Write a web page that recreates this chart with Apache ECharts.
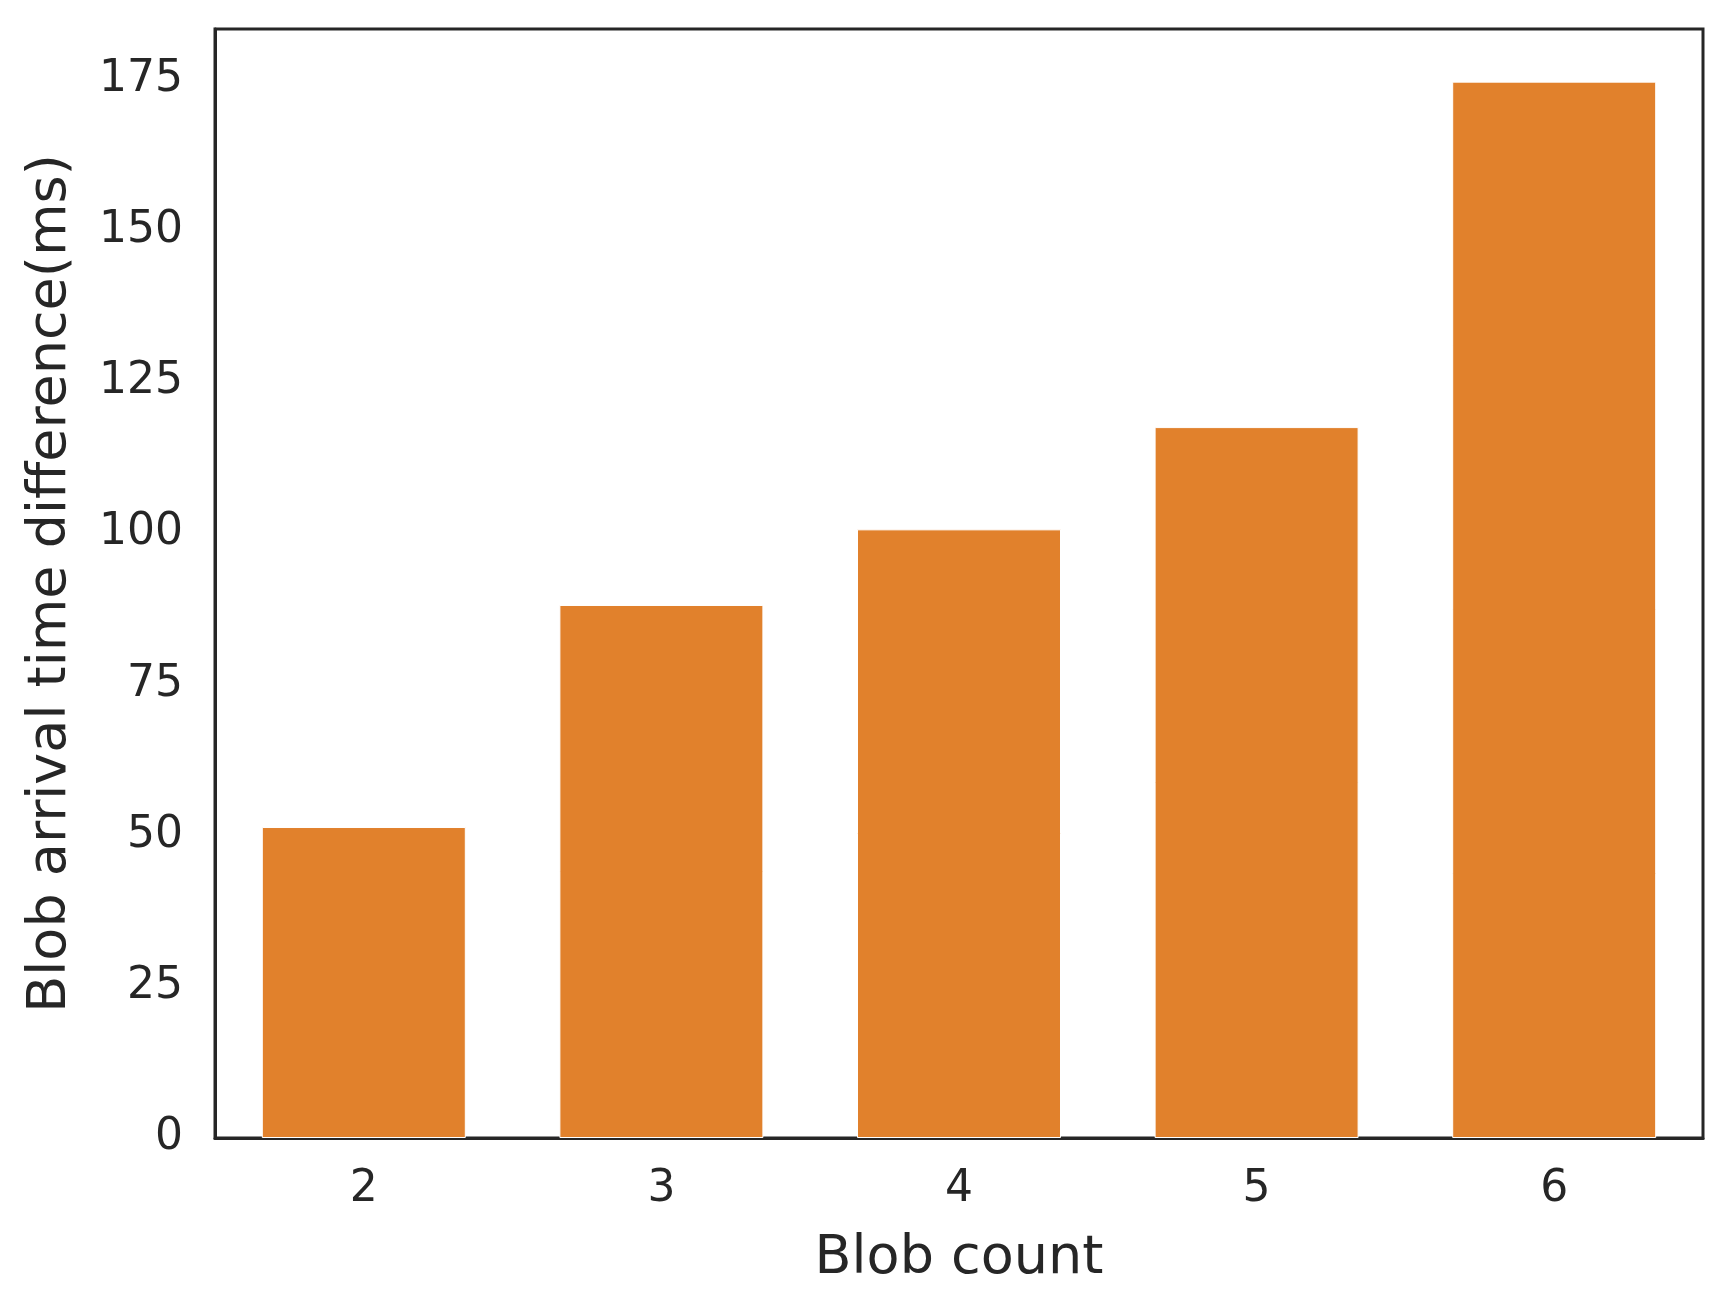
<!DOCTYPE html>
<html>
<head>
<meta charset="utf-8">
<script src="https://cdn.jsdelivr.net/npm/echarts@6/dist/echarts.min.js"></script>
<style>
html,body{margin:0;padding:0;background:#fff;}
#chart{width:1733px;height:1311px;}
</style>
</head>
<body>
<div id="chart"></div>
<script>
const categories = ['2', '3', '4', '5', '6'];
const values = [51.4, 88.1, 100.6, 117.5, 174.6];
const xTitle = 'Blob count';
const yTitle = 'Blob arrival time difference(ms)';

const chart = echarts.init(document.getElementById('chart'), null, {renderer: 'canvas'});
const textColor = '#262626';
const font = 'DejaVu Sans';
chart.setOption({
  animation: false,
  backgroundColor: '#ffffff',
  grid: {
    left: 215, right: 30, top: 29, bottom: 173,
    show: true, borderColor: textColor, borderWidth: 3, backgroundColor: 'transparent'
  },
  xAxis: {
    type: 'category',
    data: categories,
    name: xTitle,
    nameLocation: 'middle',
    nameGap: 94,
    nameTextStyle: {fontFamily: font, fontSize: 54, color: textColor},
    axisLine: {show: true, lineStyle: {color: textColor, width: 3}},
    axisTick: {show: false},
    axisLabel: {fontFamily: font, fontSize: 44, color: textColor, margin: 30}
  },
  yAxis: {
    type: 'value',
    min: 0, max: 183.3, interval: 25,
    name: yTitle,
    nameLocation: 'middle',
    nameGap: 137,
    nameTextStyle: {fontFamily: font, fontSize: 54, color: textColor},
    axisLine: {show: true, lineStyle: {color: textColor, width: 3}},
    axisTick: {show: false},
    splitLine: {show: false},
    axisLabel: {fontFamily: font, fontSize: 44, color: textColor, margin: 32, showMaxLabel: false}
  },
  series: [{
    type: 'bar',
    data: values,
    barWidth: 204,
    itemStyle: {color: '#e1812c', borderColor: '#ffffff', borderWidth: 1}
  }]
});
</script>
</body>
</html>
